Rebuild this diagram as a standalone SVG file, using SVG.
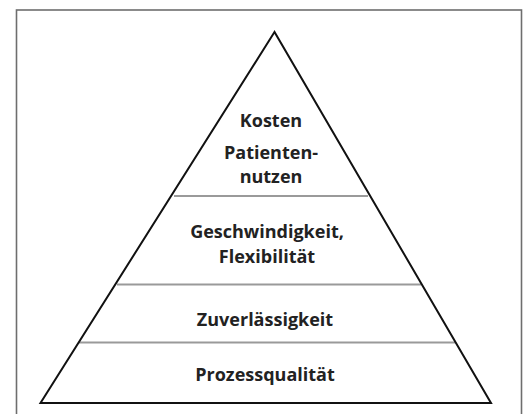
<svg xmlns="http://www.w3.org/2000/svg" width="524" height="414" viewBox="0 0 524 414">
<style>
.frame{fill:#fff;stroke:#6e6e6e;stroke-width:1.6}
.tri{fill:none;stroke:#111;stroke-width:2}
.div{stroke:#9a9a9a;stroke-width:1.8}
.lbl{font-family:"Open Sans","Liberation Sans",sans-serif;font-weight:700;font-size:18px;fill:#222;text-anchor:middle}
</style>
<rect width="524" height="414" fill="#fff"/>
<rect class="frame" x="16.5" y="10" width="505" height="420"/>
<g id="connectors">
<line class="div" x1="174" y1="196" x2="368" y2="196"/>
<line class="div" x1="117" y1="284.5" x2="421" y2="284.5"/>
<line class="div" x1="79" y1="342.5" x2="455" y2="342.5"/>
</g>
<polygon class="tri" points="274.5,32 40.5,403 491,403"/>
<g id="top"><text class="lbl" x="271" y="127">Kosten</text><text class="lbl" x="271" y="159">Patienten-</text><text class="lbl" x="271" y="183">nutzen</text></g>
<g id="speed"><text class="lbl" x="267" y="238">Geschwindigkeit,</text><text class="lbl" x="267" y="263">Flexibilität</text></g>
<g id="reliability"><text class="lbl" x="265" y="326">Zuverlässigkeit</text></g>
<g id="quality"><text class="lbl" x="265" y="381">Prozessqualität</text></g>
</svg>
